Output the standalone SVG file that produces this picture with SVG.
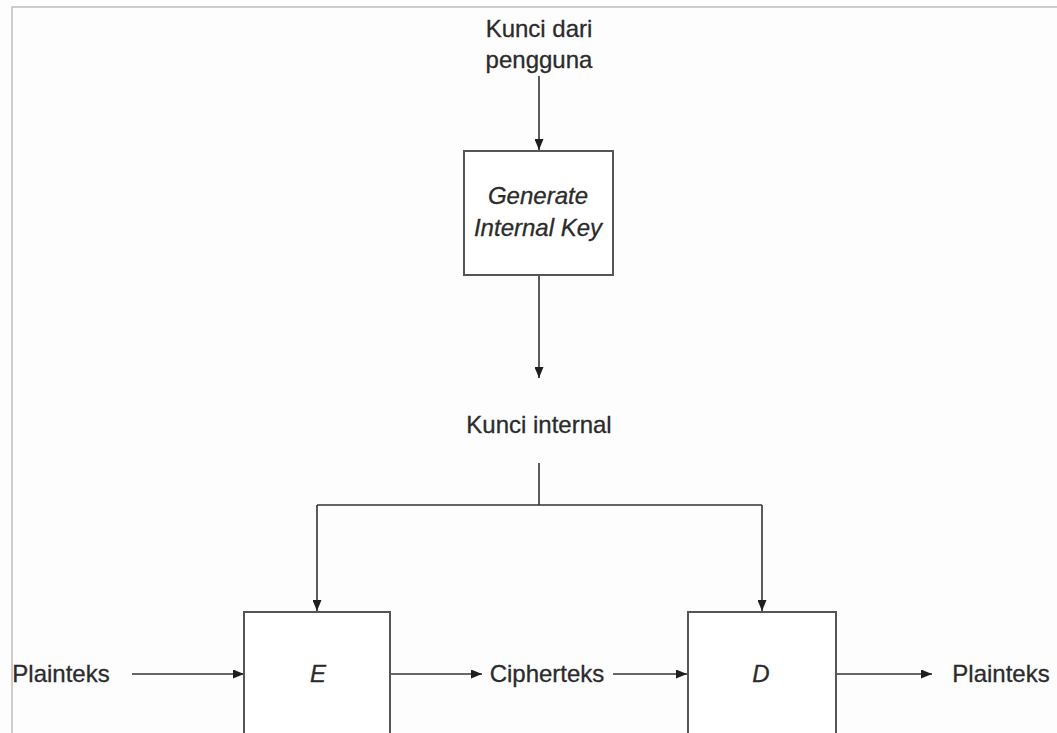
<svg xmlns="http://www.w3.org/2000/svg" width="1057" height="733" viewBox="0 0 1057 733">
<defs>
<marker id="ah" markerWidth="11" markerHeight="9" refX="11" refY="4.5" orient="auto" markerUnits="userSpaceOnUse">
<path d="M0,0 L11,4.5 L0,9 Z" fill="#1e1e1e"/>
</marker>
<style>
.t{font-family:"Liberation Sans",Arial,sans-serif;font-size:24px;fill:#2b2b2b;text-anchor:middle;stroke:#2b2b2b;stroke-width:0.3}
.i{font-style:italic}
.box{fill:#fff;stroke:#555;stroke-width:2}
.c{fill:none;stroke:#333;stroke-width:1.6}
.a{marker-end:url(#ah)}
</style>
</defs>
<rect x="0" y="0" width="1057" height="733" fill="#fdfdfd"/>
<path d="M12,733 L12,7 L1057,7" fill="none" stroke="#bdbdbd" stroke-width="1.5"/>
<g id="connectors">
<line class="c a" x1="539" y1="76" x2="539" y2="150"/>
<line class="c a" x1="539" y1="276" x2="539" y2="378"/>
<polyline class="c" points="539,463 539,505"/>
<polyline class="c" points="317,505 762,505"/>
<polyline class="c a" points="317,505 317,611"/>
<polyline class="c a" points="762,505 762,611"/>
<line class="c a" x1="132" y1="674" x2="244" y2="674"/>
<line class="c a" x1="391" y1="674" x2="482" y2="674"/>
<line class="c a" x1="613" y1="674" x2="687" y2="674"/>
<line class="c a" x1="836" y1="674" x2="932" y2="674"/>
</g>
<g id="kunci-dari">
<text class="t" x="539" y="37">Kunci dari</text>
<text class="t" x="539" y="68">pengguna</text>
</g>
<g id="generate">
<rect class="box" x="464" y="151" width="149" height="124"/>
<text class="t i" x="538" y="204">Generate</text>
<text class="t i" x="538" y="236">Internal Key</text>
</g>
<g id="kunci-internal">
<text class="t" x="539" y="433">Kunci internal</text>
</g>
<g id="plainteks-in">
<text class="t" x="61" y="682">Plainteks</text>
</g>
<g id="E">
<rect class="box" x="244" y="612" width="146" height="130"/>
<text class="t i" x="318" y="682">E</text>
</g>
<g id="cipherteks">
<text class="t" x="547" y="682">Cipherteks</text>
</g>
<g id="D">
<rect class="box" x="688" y="612" width="148" height="130"/>
<text class="t i" x="761" y="682">D</text>
</g>
<g id="plainteks-out">
<text class="t" x="1001" y="682">Plainteks</text>
</g>
</svg>
